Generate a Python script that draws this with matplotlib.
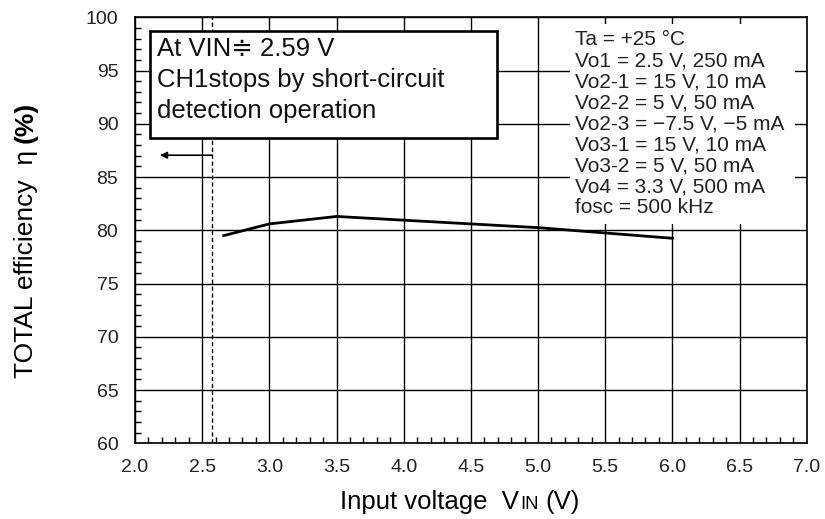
import matplotlib
matplotlib.use("Agg")
import matplotlib.pyplot as plt
from matplotlib.ticker import MultipleLocator
from matplotlib.patches import Rectangle

plt.rcParams['font.family'] = ['Liberation Sans', 'DejaVu Sans']

vin = [2.66, 3.0, 3.5, 4.0, 4.5, 5.0, 5.5, 6.0]
eff = [79.5, 80.6, 81.3, 80.95, 80.6, 80.25, 79.75, 79.25]
x_ticks = [2.0, 2.5, 3.0, 3.5, 4.0, 4.5, 5.0, 5.5, 6.0, 6.5, 7.0]
y_ticks = [60, 65, 70, 75, 80, 85, 90, 95, 100]
stop_v = 2.575
conditions = ["Ta = +25 °C", "Vo1 = 2.5 V, 250 mA", "Vo2-1 = 15 V, 10 mA",
              "Vo2-2 = 5 V, 50 mA", "Vo2-3 = \u22127.5 V, \u22125 mA",
              "Vo3-1 = 15 V, 10 mA", "Vo3-2 = 5 V, 50 mA",
              "Vo4 = 3.3 V, 500 mA", "fosc = 500 kHz"]
note_lines = ["At VIN\u2251 2.59 V", "CH1stops by short-circuit",
              "detection operation"]

W, H = 825, 519
fig = plt.figure(figsize=(W / 100, H / 100), dpi=100)
ax = fig.add_axes([135 / W, 1 - 443.3 / H, 671.7 / W, 426 / H])
ax.set_xlim(2.0, 7.0)
ax.set_ylim(60, 100)
ax.set_xticks(x_ticks)
ax.set_yticks(y_ticks)
ax.set_xticklabels([f"{v:.1f}" for v in x_ticks])
ax.xaxis.set_minor_locator(MultipleLocator(0.1))
ax.yaxis.set_minor_locator(MultipleLocator(1))
ax.tick_params(which='both', direction='in', top=False, right=False, colors='black',
               labelsize=14, labelcolor='#222222')
ax.tick_params(which='major', length=0)
ax.tick_params(axis='x', which='major', pad=11)
ax.tick_params(axis='y', which='major', pad=12)
ax.tick_params(which='minor', length=4.3, width=1)
ax.grid(True, which='major', color='black', linewidth=1.0)
for s in ax.spines.values():
    s.set_linewidth(1.2)

ax.axvline(stop_v, color='black', linewidth=1, linestyle=(0, (3, 2)), zorder=2)
ax.plot(vin, eff, color='black', linewidth=2, zorder=3)
ax.annotate("", xy=(2.186, 87.05), xytext=(stop_v, 87.05),
            arrowprops=dict(arrowstyle='-|>', color='black', lw=1.2,
                            mutation_scale=10, shrinkA=0, shrinkB=0))

# note box
ax.add_patch(Rectangle((2.1117, 88.69), 4.6946 - 2.1117, 98.71 - 88.69,
                       fc='white', ec='black', lw=1.9, zorder=5))
for i, line in enumerate(note_lines):
    ax.text(2.1615, 96.39 - i * 2.91, line, fontsize=18.5, va='baseline',
            ha='left', zorder=6, color='#111111')

# conditions block
ax.add_patch(Rectangle((5.238, 80.59), 6.913 - 5.238, 99.37 - 80.59,
                       fc='white', ec='none', zorder=5))
for i, line in enumerate(conditions):
    ax.text(5.275, 97.40 - i * 1.976, line, fontsize=15, va='baseline',
            ha='left', zorder=6, color='#222222')

# axis labels composed from pieces
fig.canvas.draw()
r = fig.canvas.get_renderer()

def fx(px):
    return px / W

def fy(py):
    return 1 - py / H

fsx = 18.5
t1 = fig.text(fx(340), fy(509), "Input voltage  V", fontsize=fsx,
              ha='left', va='baseline')
w1 = t1.get_window_extent(r).width
t2 = fig.text(fx(340 + w1 + 1.5), fy(509), "IN", fontsize=fsx * 0.72,
              ha='left', va='baseline')
w2 = t2.get_window_extent(r).width
fig.text(fx(340 + w1 + 1.5 + w2 + 6.5), fy(509), "(V)", fontsize=fsx,
         ha='left', va='baseline')

fsy = 19
y1 = fig.text(fx(33), fy(378), "TOTAL efficiency  \u03b7", fontsize=fsy,
              ha='left', va='baseline', rotation=90, rotation_mode='anchor')
h1 = y1.get_window_extent(r).height
space = fsy * 100 / 72 * 0.278
fig.text(fx(33), fy(378 - h1 - space), "(%)", fontsize=fsy, fontweight='bold',
         ha='left', va='baseline', rotation=90, rotation_mode='anchor')

fig.savefig("out.png", dpi=100)
